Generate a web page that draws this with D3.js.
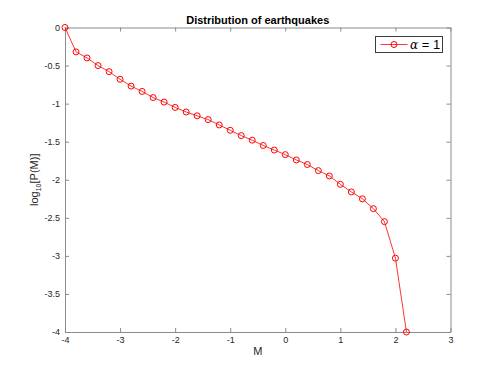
<!DOCTYPE html>
<html>
<head>
<meta charset="utf-8">
<script src="https://cdn.jsdelivr.net/npm/d3@7"></script>
<style>
  body { margin: 0; background: #fff; }
  svg { display: block; font-family: "Liberation Sans", Arial, sans-serif; }
</style>
</head>
<body>
<svg id="chart" width="498" height="374"></svg>
<script>
// magnitudes and log10 of probability
let magnitudes = [-4.0, -3.8, -3.6, -3.4, -3.2, -3.0, -2.8, -2.6, -2.4, -2.2, -2.0, -1.8, -1.6, -1.4, -1.2, -1.0,
    -0.8, -0.6, -0.4, -0.2, 0.0, 0.2, 0.4, 0.6, 0.8, 1.0, 1.2, 1.4, 1.6, 1.8, 2.0, 2.2];
let logP = [0, -0.32, -0.40, -0.50, -0.58, -0.68, -0.77, -0.84, -0.92, -0.98, -1.05, -1.11, -1.16, -1.21, -1.28, -1.35,
    -1.42, -1.48, -1.55, -1.61, -1.67, -1.74, -1.80, -1.88, -1.95, -2.06, -2.16, -2.25, -2.38, -2.55, -3.03, -4.0];

let xTicks = [-4, -3, -2, -1, 0, 1, 2, 3];
let yTicks = [0, -0.5, -1, -1.5, -2, -2.5, -3, -3.5, -4];

let plotLeft = 65, plotRight = 450.5, plotTop = 27.5, plotBottom = 332;
let axisColor = "#8c8c8c";
let textColor = "#262626";

let svg = d3.select("#chart");

let x = d3.scaleLinear().domain([-4, 3]).range([plotLeft, plotRight]);
let y = d3.scaleLinear().domain([-4, 0]).range([plotBottom, plotTop]);

// plain hyphen for negatives, like octave
let fmt = d => String(d);

// axes (ticks point inward like octave)
function styleAxis(g, showLabels) {
    g.select(".domain").attr("stroke", axisColor).attr("stroke-width", 1);
    g.selectAll(".tick line").attr("stroke", axisColor);
    g.selectAll(".tick text").attr("fill", textColor).attr("font-size", 9)
        .style("display", showLabels ? null : "none");
}

svg.append("g").attr("transform", "translate(0," + plotBottom + ")")
    .call(d3.axisBottom(x).tickValues(xTicks).tickSizeInner(-4).tickSizeOuter(0).tickPadding(5).tickFormat(fmt))
    .call(g => styleAxis(g, true));
svg.append("g").attr("transform", "translate(0," + plotTop + ")")
    .call(d3.axisTop(x).tickValues(xTicks).tickSizeInner(-4).tickSizeOuter(0))
    .call(g => styleAxis(g, false));
svg.append("g").attr("transform", "translate(" + plotLeft + ",0)")
    .call(d3.axisLeft(y).tickValues(yTicks).tickSizeInner(-4).tickSizeOuter(0).tickPadding(5).tickFormat(fmt))
    .call(g => styleAxis(g, true));
svg.append("g").attr("transform", "translate(" + plotRight + ",0)")
    .call(d3.axisRight(y).tickValues(yTicks).tickSizeInner(-4).tickSizeOuter(0))
    .call(g => styleAxis(g, false));

let pts = magnitudes.map((m, i) => [m, logP[i]]);

svg.append("path")
    .datum(pts)
    .attr("fill", "none")
    .attr("stroke", "#ff0000")
    .attr("stroke-width", 0.8)
    .attr("d", d3.line().x(d => x(d[0])).y(d => y(d[1])));

svg.selectAll("circle.pt").data(pts).enter().append("circle")
    .attr("class", "pt")
    .attr("cx", d => x(d[0]))
    .attr("cy", d => y(d[1]))
    .attr("r", 3)
    .attr("fill", "none")
    .attr("stroke", "#ff0000")
    .attr("stroke-width", 1);

// title and axis labels
svg.append("text")
    .attr("x", (plotLeft + plotRight) / 2).attr("y", 24)
    .attr("text-anchor", "middle")
    .attr("font-size", 11).attr("font-weight", "bold").attr("fill", "#000")
    .text("Distribution of earthquakes");

svg.append("text")
    .attr("x", (plotLeft + plotRight) / 2).attr("y", 355)
    .attr("text-anchor", "middle")
    .attr("font-size", 11).attr("fill", textColor)
    .text("M");

let yl = svg.append("text")
    .attr("transform", "translate(38," + (plotTop + plotBottom) / 2 + ") rotate(-90)")
    .attr("text-anchor", "middle")
    .attr("font-size", 11).attr("fill", textColor);
yl.append("tspan").text("log");
yl.append("tspan").attr("font-size", 7).attr("dy", 3).text("10");
yl.append("tspan").attr("dy", -3).text("[P(M)]");

// legend
let legend = svg.append("g");
legend.append("rect")
    .attr("x", 375.5).attr("y", 36.5).attr("width", 67).attr("height", 16)
    .attr("fill", "#fff").attr("stroke", "#3c3c3c").attr("stroke-width", 1);
legend.append("line")
    .attr("x1", 380.5).attr("x2", 407.5).attr("y1", 44.5).attr("y2", 44.5)
    .attr("stroke", "#ff0000").attr("stroke-width", 0.8);
legend.append("circle")
    .attr("cx", 394).attr("cy", 44.5).attr("r", 3)
    .attr("fill", "none").attr("stroke", "#ff0000").attr("stroke-width", 1);
let lt = legend.append("text")
    .attr("x", 410).attr("y", 49)
    .attr("font-size", 13).attr("fill", "#000");
lt.append("tspan").attr("font-family", "DejaVu Serif, serif").attr("font-style", "italic").attr("font-size", 12).text("α");
lt.append("tspan").text(" = 1");
</script>
</body>
</html>
